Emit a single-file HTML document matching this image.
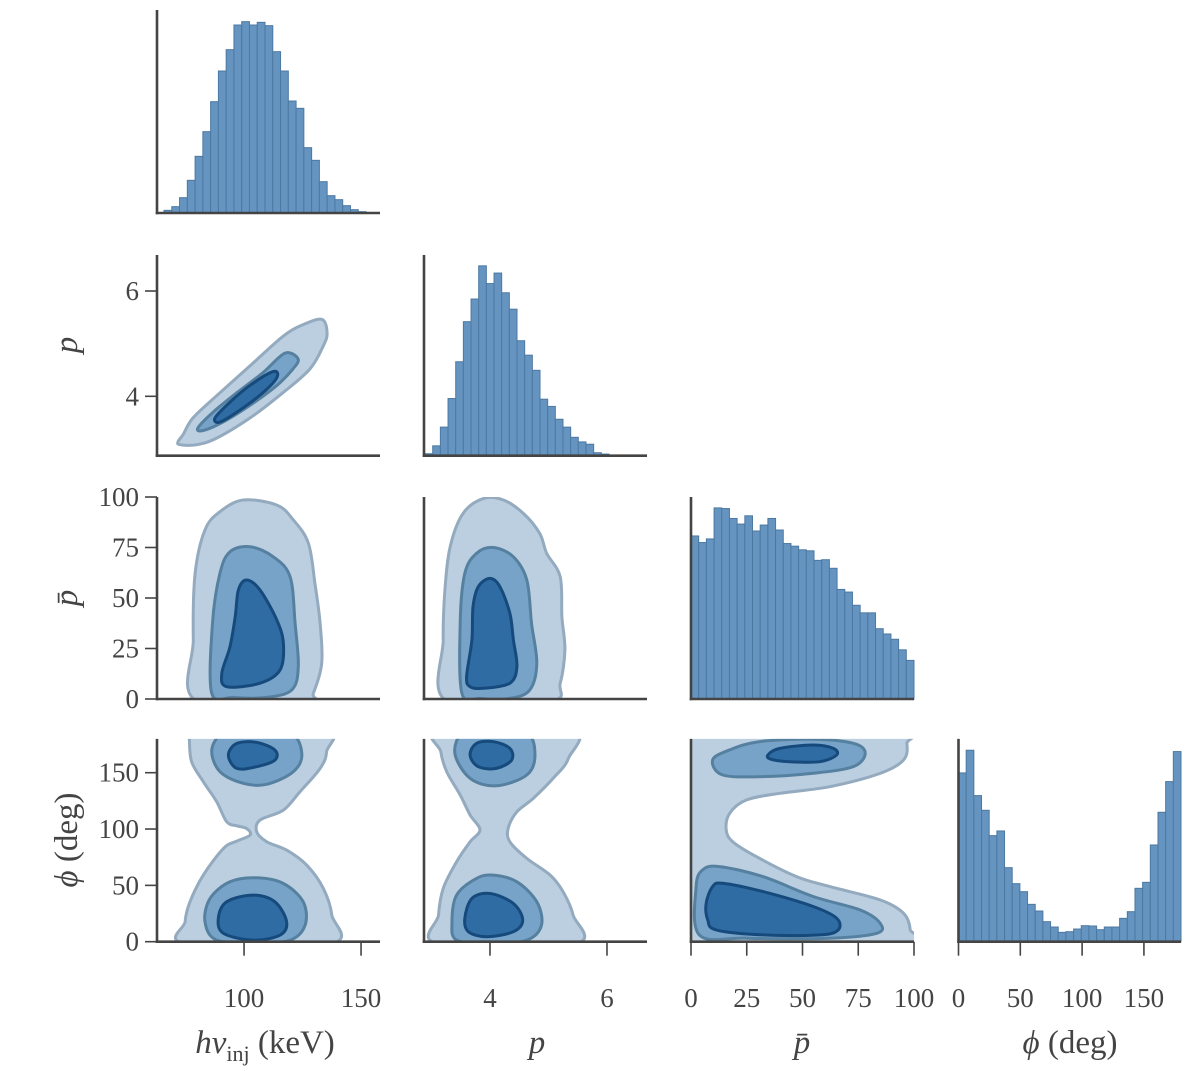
<!DOCTYPE html>
<html><head><meta charset="utf-8">
<style>
html,body{margin:0;padding:0;background:#fff;}
svg{display:block;font-family:"Liberation Serif",serif;}
</style></head>
<body>
<svg id="chart" width="1200" height="1071" viewBox="0 0 1200 1071"></svg>
<script>
// ---- histogram data (relative counts) ----
const hnuCounts = [8,19,46,98,170,244,334,426,490,564,574,564,572,562,484,426,336,314,196,158,94,52,40,22,10,4];
const pCounts = [6,30,87,174,286,408,477,578,524,556,496,446,350,306,260,172,150,111,87,56,42,35,9,5,2];
const pbarCounts = [494,474,485,579,577,547,530,555,509,527,547,512,471,463,452,449,420,422,396,332,324,284,261,261,213,197,181,149,117];
const phiCounts = [506,574,438,394,318,332,222,174,150,112,92,60,44,28,30,38,48,47,36,44,44,70,90,160,178,290,388,480,570];
const hnuBins = [65.8, 3.32];
const pBins = [2.89, 0.131];
const pbarBins = [0, 3.448];
const phiBins = [0, 6.207];
const histMax = [609, 611, 612, 608];

// ---- contour levels (data coords) ----
const c10_outer = [[71.8,3.14],[73.9,3.27],[78.2,3.59],[88.5,4.02],[102.6,4.58],[116.7,5.14],[125.2,5.36],[133.3,5.46],[135.5,5.20],[133.8,4.95],[128.2,4.52],[116.7,4.07],[102.6,3.59],[88.5,3.21],[79.9,3.08],[72.6,3.08]];
const c10_mid = [[80.3,3.40],[86.8,3.70],[97.0,4.07],[108.1,4.45],[117.5,4.82],[123.1,4.71],[120.9,4.52],[114.1,4.21],[102.6,3.83],[91.0,3.51],[82.5,3.35]];
const c10_in = [[87.6,3.59],[94.0,3.89],[102.6,4.21],[112.4,4.47],[114.1,4.36],[108.1,4.07],[98.3,3.74],[89.7,3.51]];

const c20_outer = [[79.8,-1],[78.3,29.2],[79.1,62.2],[83.3,83.7],[89.7,92.7],[99.7,98.5],[114.0,96.0],[121.1,88.6],[127.5,77.1],[130.3,57.3],[132.5,37.5],[133.2,17.7],[129.6,2.8],[126.7,-1]];
const c20_mid = [[86.2,2.8],[86.5,37.5],[89.7,62.2],[94.0,72.9],[102.6,75.4],[112.5,70.4],[119.7,60.5],[121.8,37.5],[123.2,16.0],[120.4,4.5],[109.7,0.8],[95.4,0.8]];
const c20_in = [[90.5,12.7],[94.0,25.9],[96.2,40.7],[97.6,54.0],[101.1,58.9],[106.8,54.0],[114.0,39.1],[116.8,27.6],[115.4,14.4],[106.8,7.8],[92.6,6.1]];

const c21_outer = [[3.26,-1],[3.20,29.2],[3.23,54.0],[3.32,75.4],[3.54,91.9],[3.89,99.3],[4.23,98.5],[4.57,91.9],[4.85,82.0],[4.97,72.1],[5.20,60.5],[5.23,40.7],[5.28,24.3],[5.20,7.8],[5.03,-1]];
const c21_mid = [[3.52,2.8],[3.49,37.5],[3.57,62.2],[3.77,72.1],[4.06,75.0],[4.40,70.4],[4.63,58.9],[4.71,37.5],[4.80,17.7],[4.68,4.5],[4.34,0.3],[3.83,0.3]];
const c21_in = [[3.60,11.0],[3.69,29.2],[3.71,45.7],[3.80,55.6],[4.00,59.7],[4.17,55.6],[4.34,42.4],[4.40,29.2],[4.46,16.0],[4.34,7.8],[3.89,5.3],[3.66,6.1]];

const c30_outer = [[76.6,190],[76.6,180.4],[77.6,159.7],[82.6,142.0],[88.3,124.2],[92.6,106.4],[96.9,102.9],[101.1,100.5],[102.6,94.6],[96.9,89.3],[91.2,82.8],[82.6,59.1],[76.9,35.4],[74.8,17.7],[75.5,-2],[136.8,-2],[137.5,23.6],[133.9,47.2],[126.8,67.9],[118.2,81.3],[109.7,88.7],[105.4,97.6],[106.8,107.9],[116.8,116.8],[123.9,133.1],[132.5,153.8],[135.3,168.6],[133.9,190]];
const c30_midTop = [[86.2,170],[91.2,186],[102.6,190],[119.7,186],[124.7,167],[121.1,151],[109.7,139.7],[99.7,140.6],[89.7,151]];
const c30_inTop = [[93.3,165.6],[96.9,176],[105.4,176.9],[113.2,170.1],[113.2,161.2],[105.4,155.3],[96.9,153.8]];
const c30_midBot = [[83.3,17.7],[85.5,38.4],[94.0,53.2],[105.4,56.7],[116.8,51.7],[125.3,35.4],[126.1,14.7],[119.7,1.4],[105.4,-1],[88.3,1.4]];
const c30_inBot = [[89.0,20.7],[92.6,35.4],[103.9,41.4],[113.2,35.4],[118.2,17.7],[115.4,5.9],[103.9,1.4],[91.2,7.4]];

const c31_outer = [[3.15,189],[3.16,168.6],[3.26,150.9],[3.49,130.2],[3.66,112.5],[3.83,99.2],[3.66,88.7],[3.43,71.0],[3.20,47.2],[3.12,23.6],[3.12,-2],[5.45,-2],[5.42,23.6],[5.25,44.3],[5.03,59.1],[4.63,73.9],[4.34,88.7],[4.31,100.5],[4.46,115.3],[4.74,127.2],[5.08,145],[5.34,162.7],[5.38,189]];
const c31_midTop = [[3.40,167],[3.54,186],[4.00,190],[4.63,186],[4.77,165.6],[4.63,148],[4.11,138.4],[3.66,145]];
const c31_inTop = [[3.66,165.6],[3.77,176],[4.06,177.5],[4.34,171.6],[4.37,161.2],[4.11,153.8],[3.80,155.3]];
const c31_midBot = [[3.35,17.7],[3.43,41.4],[3.77,56.2],[4.06,59.1],[4.46,53.2],[4.80,35.4],[4.88,14.7],[4.63,1.4],[4.00,-2],[3.43,1.4]];
const c31_inBot = [[3.57,20.7],[3.69,38.4],[4.00,42.8],[4.40,33.9],[4.56,19.2],[4.40,8.9],[3.94,4.4],[3.63,8.9]];

const c32_outer = [[-2,190],[93.8,190],[96.8,176],[95.3,161.3],[84.8,149.4],[62.3,137.6],[39.8,131.7],[24.8,125.8],[17.3,113.9],[15.8,99.2],[18.7,88.8],[29.3,75.5],[47.3,57.8],[62.3,48.9],[84.8,37.1],[95.3,25.3],[98.3,10.5],[96.8,-2],[-2,-2]];
const c32_midTop = [[9.7,161.3],[17.3,170.2],[30.8,177.6],[54.8,179.7],[72.8,176.1],[78.1,167.3],[72.8,155.4],[54.8,149.5],[32.3,146.5],[14.2,148]];
const c32_inTop = [[34.5,165.7],[39.8,171.6],[54.8,174.6],[63.8,171.6],[65.3,165.7],[57.8,159.8],[44.3,159.8],[36.0,161.9]];
const c32_midBot = [[2.3,48.9],[5.2,63.7],[12.7,66.7],[32.3,57.8],[54.8,40.1],[75.8,28.2],[84.8,16.4],[83.3,7.5],[62.3,3.1],[24.8,3.1],[3.7,6]];
const c32_inBot = [[6.8,34.2],[9.7,48.9],[14.2,51.9],[32.3,44.5],[54.8,31.2],[65.3,20.9],[66.0,10.5],[57.8,6],[32.3,6],[11.3,10.5],[7.5,19.4]];

// ---- ticks ----
const xTicks = [[100,150],[4,6],[0,25,50,75,100],[0,50,100,150]];
const yTicks = [null,[4,6],[0,25,50,75,100],[0,50,100,150]];

// ---- layout ----
const colPx = [[157,380],[424,647],[691,914],[958.5,1181]];
const rowPx = [[10,213],[255,455.7],[497,699],[738.9,941.7]];
const dom = [[62.8,158.1],[2.872,6.684],[0,100],[0,180]];

const NS = "http://www.w3.org/2000/svg";
const svg = document.getElementById('chart');
function mk(tag, attrs, parent){const e=document.createElementNS(NS,tag);for(const k in attrs)e.setAttribute(k,attrs[k]);(parent||svg).appendChild(e);return e;}
function sx(c,v){const d=dom[c],p=colPx[c];return p[0]+(v-d[0])/(d[1]-d[0])*(p[1]-p[0]);}
function sy(r,v){const d=dom[r],p=rowPx[r];return p[1]-(v-d[0])/(d[1]-d[0])*(p[1]-p[0]);}
function smooth(pts){
  const n=pts.length;let d=`M${pts[0][0]},${pts[0][1]}`;
  for(let i=0;i<n;i++){
    const p0=pts[(i-1+n)%n],p1=pts[i],p2=pts[(i+1)%n],p3=pts[(i+2)%n];
    const c1=[p1[0]+(p2[0]-p0[0])/6,p1[1]+(p2[1]-p0[1])/6];
    const c2=[p2[0]-(p3[0]-p1[0])/6,p2[1]-(p3[1]-p1[1])/6];
    d+=`C${c1[0].toFixed(1)},${c1[1].toFixed(1)} ${c2[0].toFixed(1)},${c2[1].toFixed(1)} ${p2[0].toFixed(1)},${p2[1].toFixed(1)}`;
  }
  return d+'Z';
}
const defs = mk('defs',{});

function contourPanel(r,c,levels){
  const id=`clip-${r}-${c}`;
  const cp=mk('clipPath',{id:id},defs);
  mk('rect',{x:colPx[c][0],y:rowPx[r][0],width:colPx[c][1]-colPx[c][0],height:rowPx[r][1]-rowPx[r][0]},cp);
  const g=mk('g',{'clip-path':`url(#${id})`});
  
  
  const styles={outer:['#bccfe0','#93aabf'],mid:['#77a3c9','#56809f'],inn:['#2f6ca3','#164a7c']};
  levels.forEach(([lvl,pts])=>{
    const px=pts.map(p=>[sx(c,p[0]),sy(r,p[1])]);
    const path=mk('path',{d:smooth(px),fill:styles[lvl][0],stroke:styles[lvl][1],'stroke-width':3,'stroke-linejoin':'round'},g);
    
    
  });
}
function histPanel(i,counts,bins){
  const g=mk('g',{});
  
  
  const base=rowPx[i][1],top=rowPx[i][0],H=base-top;
  counts.forEach((v,k)=>{
    const x0=sx(i,bins[0]+k*bins[1]),x1=sx(i,bins[0]+(k+1)*bins[1]);
    const h=v/histMax[i]*H;
    const b=mk('rect',{x:x0,y:base-h,width:x1-x0,height:h,fill:'#6594c0',stroke:'#4c79a1','stroke-width':1},g);
    
    
  });
}
histPanel(0,hnuCounts,hnuBins);
histPanel(1,pCounts,pBins);
histPanel(2,pbarCounts,pbarBins);
histPanel(3,phiCounts,phiBins);
contourPanel(1,0,[['outer',c10_outer],['mid',c10_mid],['inn',c10_in]]);
contourPanel(2,0,[['outer',c20_outer],['mid',c20_mid],['inn',c20_in]]);
contourPanel(2,1,[['outer',c21_outer],['mid',c21_mid],['inn',c21_in]]);
contourPanel(3,0,[['outer',c30_outer],['mid',c30_midTop],['inn',c30_inTop],['mid',c30_midBot],['inn',c30_inBot]]);
contourPanel(3,1,[['outer',c31_outer],['mid',c31_midTop],['inn',c31_inTop],['mid',c31_midBot],['inn',c31_inBot]]);
contourPanel(3,2,[['outer',c32_outer],['mid',c32_midTop],['inn',c32_inTop],['mid',c32_midBot],['inn',c32_inBot]]);

// axes
const AX='#444';
for(let r=0;r<4;r++){for(let c=0;c<=r;c++){
  const g=mk('g',{});
  
  
  const x0=colPx[c][0],x1=colPx[c][1],y0=rowPx[r][0],y1=rowPx[r][1];
  mk('line',{x1:x0,y1:y0,x2:x0,y2:y1+1.3,stroke:AX,'stroke-width':2.6},g);
  mk('line',{x1:x0-1.3,y1:y1,x2:x1,y2:y1,stroke:AX,'stroke-width':2.6},g);
  if(r===3){xTicks[c].forEach(t=>{const x=sx(c,t);
    mk('line',{x1:x,y1:y1,x2:x,y2:y1+14,stroke:AX,'stroke-width':1.6},g);
    const tx=mk('text',{x:x,y:1007,'font-size':27,fill:AX,'text-anchor':'middle'},g);tx.textContent=t;
    
    });}
  if(c===0&&r>0){yTicks[r].forEach(t=>{const y=sy(r,t);
    mk('line',{x1:x0,y1:y,x2:x0-12,y2:y,stroke:AX,'stroke-width':1.6},g);
    const tx=mk('text',{x:139,y:y+9,'font-size':27,fill:AX,'text-anchor':'end'},g);tx.textContent=t;
    
    });}
}}
</script>
<svg width="1200" height="1071" style="position:absolute;left:0;top:0;pointer-events:none;font-family:'Liberation Serif',serif">
  <text x="265" y="1053" font-size="33" fill="#444" text-anchor="middle"><tspan font-style="italic">hν</tspan><tspan font-size="22" dy="8">inj</tspan><tspan dy="-8"> (keV)</tspan></text>
  <text x="537" y="1053" font-size="33" fill="#444" text-anchor="middle" font-style="italic">p</text>
  <text x="802" y="1053" font-size="33" fill="#444" text-anchor="middle" font-style="italic">p̄</text>
  <text x="1070" y="1053" font-size="33" fill="#444" text-anchor="middle"><tspan font-style="italic">ϕ</tspan> (deg)</text>
  <text transform="translate(77,345) rotate(-90)" font-size="33" fill="#444" text-anchor="middle" font-style="italic">p</text>
  <text transform="translate(77,598) rotate(-90)" font-size="33" fill="#444" text-anchor="middle" font-style="italic">p̄</text>
  <text transform="translate(77,840) rotate(-90)" font-size="33" fill="#444" text-anchor="middle"><tspan font-style="italic">ϕ</tspan> (deg)</text>
</svg>
</body></html>
